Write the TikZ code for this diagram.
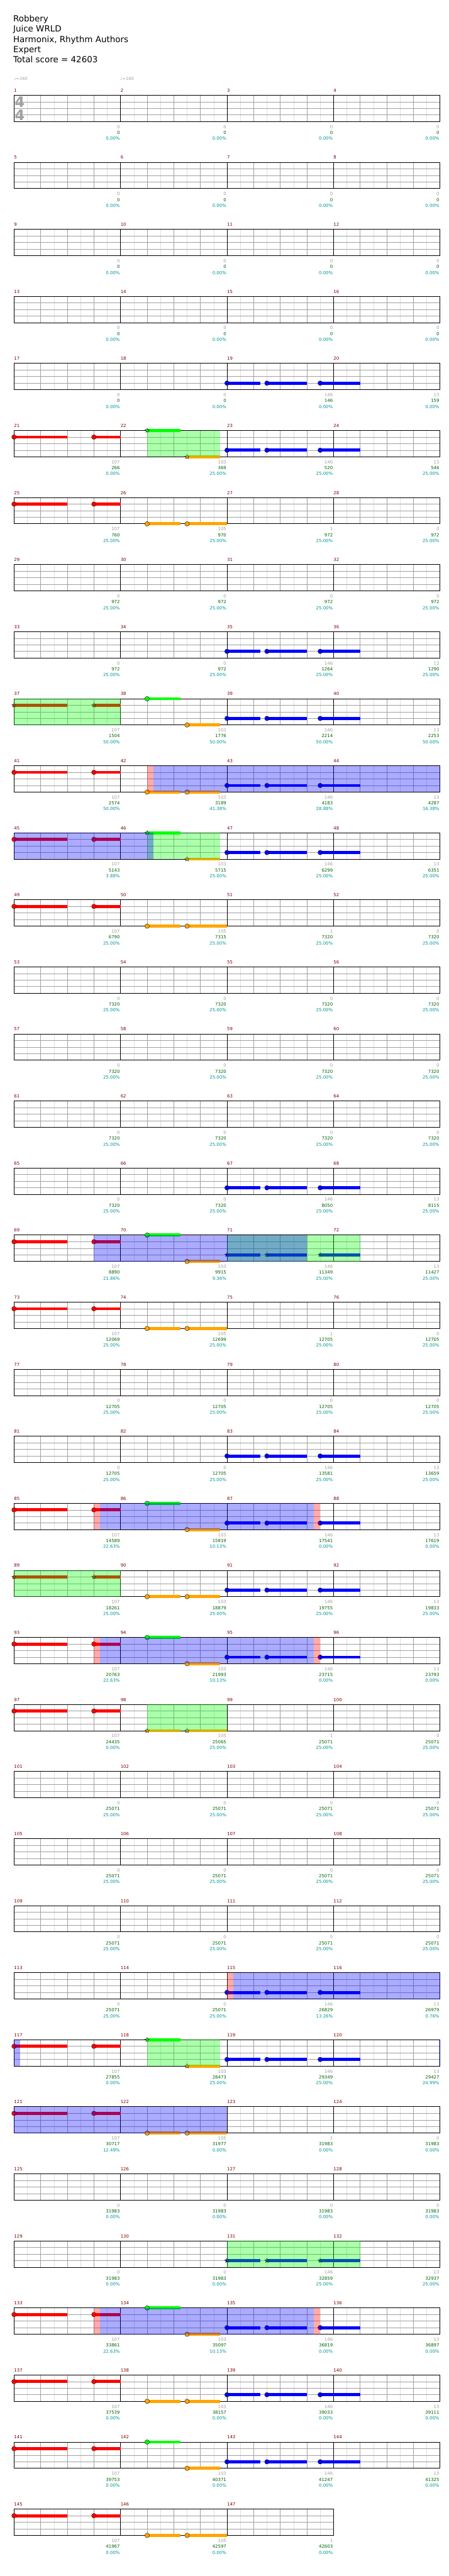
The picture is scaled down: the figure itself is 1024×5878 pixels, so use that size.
\documentclass[tikz,border=0pt]{standalone}
\usepackage{fontspec}
\setmainfont{DejaVu Sans}
\usetikzlibrary{shapes.geometric,positioning}

\definecolor{barnum}{RGB}{128,0,0}
\definecolor{cntgray}{RGB}{160,160,160}
\definecolor{scoregreen}{RGB}{0,100,0}
\definecolor{pctteal}{RGB}{0,150,150}
\definecolor{gridlight}{RGB}{222,222,222}
\definecolor{gridmid}{RGB}{160,160,160}
\definecolor{ngreen}{RGB}{0,255,0}
\definecolor{nred}{RGB}{255,0,0}
\definecolor{nblue}{RGB}{0,0,255}
\definecolor{norange}{RGB}{255,165,0}

\tikzset{
  ttl/.style={font=\fontsize{19.3}{23}\selectfont,inner sep=0pt,text height=14pt,text depth=4pt,anchor=north west},
  sm/.style={font=\fontsize{10}{12}\selectfont,inner sep=0pt,text height=8pt,text depth=0pt},
  mno/.style={sm,text=barnum,anchor=base west},
  cno/.style={sm,text=cntgray,anchor=north east},
  sno/.style={sm,text=scoregreen},
  pno/.style={sm,text=pctteal},
  tmp/.style={font=\fontsize{9.5}{11}\selectfont,text=cntgray,inner sep=0pt,anchor=base west},
  tsig/.style={font=\fontsize{33}{33}\selectfont\bfseries,text=cntgray,inner sep=0pt},
  lgl/.style={draw=gridlight,line width=0.8pt},
  mgl/.style={draw=gridmid,line width=0.9pt},
  msl/.style={draw=black,line width=0.9pt},
  stf/.style={draw=black,line width=1.3pt},
  bar/.style={draw=#1,line width=7pt},
  hd/.style={shape=#1,draw=black,line width=0.5pt,inner sep=0pt,minimum size=10.5pt,star points=5,star point ratio=2.4},
  ovl/.style={fill=#1,opacity=0.33},
}

% #1 = top edge of the staff, #2 = number of bars
\newcommand{\drawstaff}[2]{%
  \pgfmathtruncatemacro\nsub{8*#2-1}%
  \pgfmathtruncatemacro\nbeat{4*#2-1}%
  \foreach \k in {1,...,\nsub} \draw[lgl] (32+\k*30.375,#1) -- ++(0,60);
  \foreach \k in {1,...,\nbeat} \draw[mgl] (32+\k*60.75,#1) -- ++(0,60);
  \foreach \k in {15,30,45} \draw[mgl] (32,#1+\k) -- ++(#2*243,0);
  \foreach \k in {1,...,#2} \draw[msl] (32+\k*243-243,#1) -- ++(0,60);
  \draw[stf] (32,#1) rectangle ++(#2*243,60);
}

% #1 = lane, #2/#3 = first/last beat in the row, #4 = colour, #5 = head shape
\newcommand{\chartnote}[5]{%
  \pgfmathtruncatemacro\hn{#2*4}%
  \draw[bar=#4] (32+#2*60.75,#1) -- (32+#3*60.75,#1);
  \node[hd=#5,fill=#4] (h\i-#4-\hn) at (32+#2*60.75,#1) {};
}

\begin{document}
\begin{tikzpicture}[x=1pt,y=-1pt]
  \useasboundingbox (0,0) rectangle (1024,5878);
  \fill[white] (0,0) rectangle (1024,5878);

  \node[ttl] (song) at (30,35.3) {Robbery};
  \node[ttl,below=5pt of song.south west,anchor=north west] (artist) {Juice WRLD};
  \node[ttl,below=5pt of artist.south west,anchor=north west] (charter) {Harmonix, Rhythm Authors};
  \node[ttl,below=5pt of charter.south west,anchor=north west] (diff) {Expert};
  \node[ttl,below=5pt of diff.south west,anchor=north west] (total) {Total score = 42603};

  \foreach \i in {0,...,35} {
    \pgfmathsetmacro\rtop{217.3+153*\i}
    \drawstaff{\rtop}{4}
  }
  \drawstaff{5725.3}{3}

  \node[tmp] (tempoa) at (32,183) {♩=160};
  \node[tmp] (tempob) at (274.5,183) {♩=160};
  \node[tsig] (tsnum) at (45,233) {4};
  \node[tsig] (tsden) at (45,262.5) {4};

  % notes
  \foreach \i/\hs in {5/circle,6/circle,9/star,10/circle,11/circle,12/circle,17/circle,18/circle,21/circle,22/star,23/circle,24/circle,29/circle,30/circle,33/circle,34/circle,35/circle,36/circle} {
    \pgfmathsetmacro\rtop{217.3+153*\i}
    \chartnote{\rtop+15}{0}{2}{nred}{\hs}
    \chartnote{\rtop+15}{3}{4}{nred}{\hs}
  }
  \foreach \i/\hs in {5/star,9/circle,11/star,17/circle,21/circle,23/circle,29/star,33/circle,35/circle} {
    \pgfmathsetmacro\rtop{217.3+153*\i}
    \chartnote{\rtop}{5}{6.25}{ngreen}{\hs}
    \chartnote{\rtop+60}{6.5}{7.75}{norange}{\hs}
  }
  \foreach \i/\e/\hs in {10/7.75/circle,22/7.75/circle,34/7.75/circle,6/8/circle,12/8/circle,18/8/circle,24/8/star,30/8/circle,36/8/circle} {
    \pgfmathsetmacro\rtop{217.3+153*\i}
    \chartnote{\rtop+60}{5}{6.25}{norange}{\hs}
    \chartnote{\rtop+60}{6.5}{\e}{norange}{\hs}
  }
  \foreach \i/\hs in {4/circle,5/circle,8/circle,9/circle,10/circle,11/circle,16/circle,17/star,20/circle,21/circle,22/circle,23/circle,28/circle,29/circle,32/star,33/circle,34/circle,35/circle} {
    \pgfmathsetmacro\rtop{217.3+153*\i}
    \chartnote{\rtop+45}{8}{9.25}{nblue}{\hs}
    \chartnote{\rtop+45}{9.5}{11}{nblue}{\hs}
    \chartnote{\rtop+45}{11.5}{13}{nblue}{\hs}
  }

  % star power phrases, activations
  \foreach \i/\a/\b/\col in {5/5/7.75/ngreen,9/0/4/ngreen,11/5/7.75/ngreen,17/8/13/ngreen,22/0/4/ngreen,24/5/8/ngreen,29/5/7.75/ngreen,32/8/13/ngreen,
      10/5.24/16/nblue,11/0/5.24/nblue,17/3/11/nblue,21/3.24/11.26/nblue,23/3.24/11.26/nblue,28/8.24/16/nblue,29/0/0.23/nblue,29/15.97/16/nblue,30/0/8/nblue,33/3.24/11.26/nblue,
      10/5/5.24/nred,21/3/3.24/nred,21/11.26/11.5/nred,23/3/3.24/nred,23/11.26/11.5/nred,28/8/8.24/nred,33/3/3.24/nred,33/11.26/11.5/nred} {
    \pgfmathsetmacro\rtop{217.3+153*\i}
    \fill[ovl=\col] (32+\a*60.75,\rtop) rectangle (32+\b*60.75,\rtop+60);
  }

  % bar numbers, counts, scores
  \foreach \i/\ca/\cb/\cc/\cd/\sa/\sb/\sc/\sd/\pa/\pb/\pc/\pd in {
      0/0/0/0/0/0/0/0/0/0.00/0.00/0.00/0.00,
      1/0/0/0/0/0/0/0/0/0.00/0.00/0.00/0.00,
      2/0/0/0/0/0/0/0/0/0.00/0.00/0.00/0.00,
      3/0/0/0/0/0/0/0/0/0.00/0.00/0.00/0.00,
      4/0/0/146/13/0/0/146/159/0.00/0.00/0.00/0.00,
      5/107/103/146/13/266/369/520/546/0.00/25.00/25.00/25.00,
      6/107/105/1/0/760/970/972/972/25.00/25.00/25.00/25.00,
      7/0/0/0/0/972/972/972/972/25.00/25.00/25.00/25.00,
      8/0/0/146/13/972/972/1264/1290/25.00/25.00/25.00/25.00,
      9/107/103/146/13/1504/1776/2214/2253/50.00/50.00/50.00/50.00,
      10/107/103/146/13/2574/3189/4183/4287/50.00/41.38/28.88/16.38,
      11/107/103/146/13/5143/5715/6299/6351/3.88/25.00/25.00/25.00,
      12/107/105/1/0/6790/7315/7320/7320/25.00/25.00/25.00/25.00,
      13/0/0/0/0/7320/7320/7320/7320/25.00/25.00/25.00/25.00,
      14/0/0/0/0/7320/7320/7320/7320/25.00/25.00/25.00/25.00,
      15/0/0/0/0/7320/7320/7320/7320/25.00/25.00/25.00/25.00,
      16/0/0/146/13/7320/7320/8050/8115/25.00/25.00/25.00/25.00,
      17/107/103/146/13/8890/9915/11349/11427/21.86/9.36/25.00/25.00,
      18/107/105/1/0/12069/12699/12705/12705/25.00/25.00/25.00/25.00,
      19/0/0/0/0/12705/12705/12705/12705/25.00/25.00/25.00/25.00,
      20/0/0/146/13/12705/12705/13581/13659/25.00/25.00/25.00/25.00,
      21/107/103/146/13/14589/15819/17541/17619/22.63/10.13/0.00/0.00,
      22/107/103/146/13/18261/18879/19755/19833/25.00/25.00/25.00/25.00,
      23/107/103/146/13/20763/21993/23715/23793/22.63/10.13/0.00/0.00,
      24/107/105/1/0/24435/25065/25071/25071/0.00/25.00/25.00/25.00,
      25/0/0/0/0/25071/25071/25071/25071/25.00/25.00/25.00/25.00,
      26/0/0/0/0/25071/25071/25071/25071/25.00/25.00/25.00/25.00,
      27/0/0/0/0/25071/25071/25071/25071/25.00/25.00/25.00/25.00,
      28/0/0/146/13/25071/25071/26829/26979/25.00/25.00/13.26/0.76,
      29/107/103/146/13/27855/28473/29349/29427/0.00/25.00/25.00/24.99,
      30/107/105/1/0/30717/31977/31983/31983/12.49/0.00/0.00/0.00,
      31/0/0/0/0/31983/31983/31983/31983/0.00/0.00/0.00/0.00,
      32/0/0/146/13/31983/31983/32859/32937/0.00/0.00/25.00/25.00,
      33/107/103/146/13/33861/35097/36819/36897/22.63/10.13/0.00/0.00,
      34/107/103/146/13/37539/38157/39033/39111/0.00/0.00/0.00/0.00,
      35/107/103/146/13/39753/40371/41247/41325/0.00/0.00/0.00/0.00} {
    \pgfmathsetmacro\rtop{217.3+153*\i}
    \foreach \k/\cnt/\scr/\pct in {0/\ca/\sa/\pa,1/\cb/\sb/\pb,2/\cc/\sc/\pc,3/\cd/\sd/\pd} {
      \pgfmathtruncatemacro\mn{4*\i+\k+1}
      \node[mno] (m\mn) at (32+\k*243,\rtop-7.3) {\mn};
      \node[cno] (c\mn) at (30.7+\k*243+243,\rtop+67.4) {\cnt};
      \node[sno,below=5pt of c\mn.south east,anchor=north east] (s\mn) {\scr};
      \node[pno,below=5pt of s\mn.south east,anchor=north east] (p\mn) {\pct\%};
    }
  }
  \foreach \k/\cnt/\scr in {0/107/41967,1/105/42597,2/1/42603} {
    \pgfmathtruncatemacro\mn{145+\k}
    \node[mno] (m\mn) at (32+\k*243,5718) {\mn};
    \node[cno] (c\mn) at (30.7+\k*243+243,5792.7) {\cnt};
    \node[sno,below=5pt of c\mn.south east,anchor=north east] (s\mn) {\scr};
    \node[pno,below=5pt of s\mn.south east,anchor=north east] (p\mn) {0.00\%};
  }
\end{tikzpicture}
\end{document}
